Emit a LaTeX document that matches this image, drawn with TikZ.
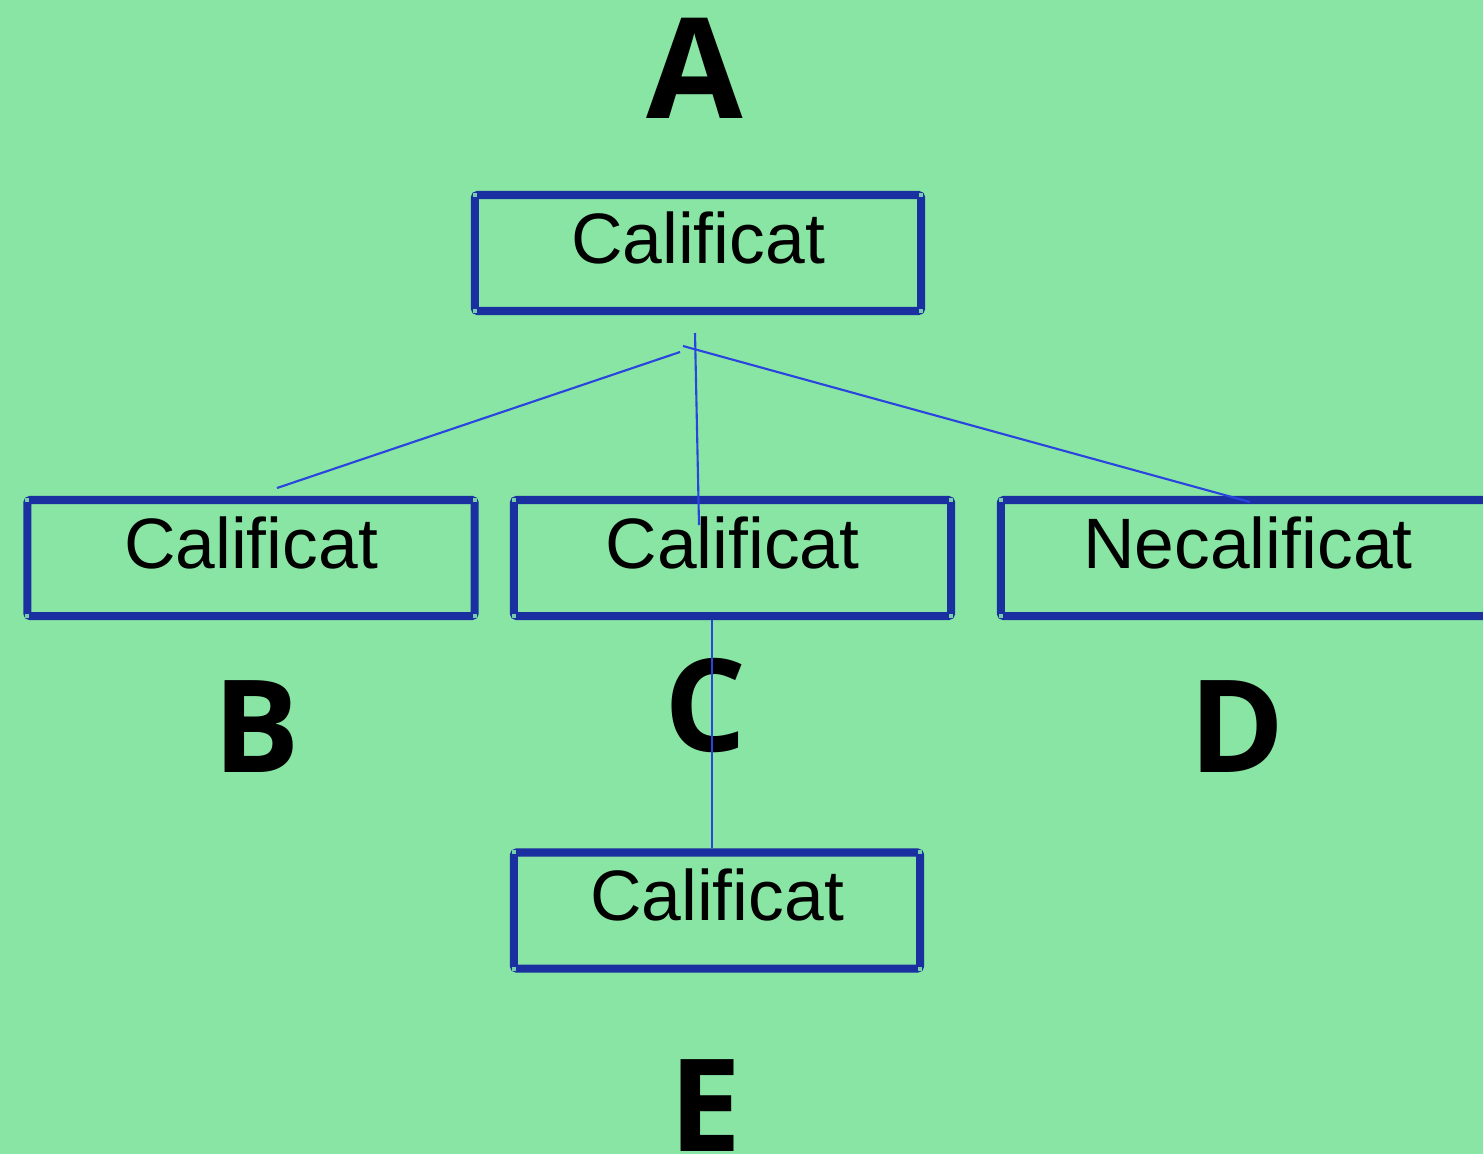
\documentclass[tikz,border=0pt]{standalone}
\usepackage{fontspec}
\setmainfont{Liberation Sans}
\newfontfamily\bigletter{Open Sans}
\usepackage{tikz}
\usetikzlibrary{
	positioning,
	calc
}
\definecolor{sheetgreen}{RGB}{136,229,163}
\definecolor{boxblue}{RGB}{26,47,160}
\definecolor{linkblue}{RGB}{42,68,224}
\definecolor{handle}{RGB}{120,205,170}

\begin{document}
\begin{tikzpicture}[x=0.01cm,y=-0.01cm,
	box/.style={draw=boxblue,line width=2.3pt,rounded corners=0.8pt,inner sep=0pt,outer sep=0pt,
		text height=0.68cm,text depth=0.48cm,font=\fontsize{20.3}{24}\selectfont},
	letter/.style={anchor=base,font=\bigletter\bfseries\fontsize{36.6}{40}\selectfont},
	link/.style={draw=linkblue,line width=0.6pt}
]
	\fill[sheetgreen] (0,0) rectangle (1483,1154);
	\useasboundingbox (0,0) rectangle (1483,1154);

	\draw
		node [box,minimum width=4.46cm] (top) at (698,253)    {Calificat}
		node [box,minimum width=4.47cm] (cb)  at (251,558)    {Calificat}
		node [box,minimum width=4.37cm] (cc)  at (732.5,558)  {Calificat}
		node [box,minimum width=4.94cm] (cd)  at (1248,558)   {Necalificat}
		node [box,minimum width=4.06cm] (ce)  at (717,910.5)  {Calificat}
	;

	% corner handles
	\foreach \n in {top,cb,cc,cd,ce}
		\foreach \a in {north west,north east,south west,south east}
			\fill[handle] ($(\n.\a)+(-2,-2)$) rectangle ($(\n.\a)+(2,2)$);

	\node [letter,font=\bigletter\bfseries\fontsize{39.8}{44}\selectfont] (la) at (695,118) {A};
	\node [letter] (lb) at (257,772)  {B};
	\node [letter] (lc) at (705,751)  {C};
	\node [letter] (ld) at (1237,772) {D};
	\node [letter] (le) at (706,1151) {E};

	\coordinate (forkb) at (680,352);
	\coordinate (forkc) at (695,333);
	\coordinate (forkd) at (683,346);
	\coordinate (endb)  at (277,488);
	\coordinate (endc)  at (699,525);
	\coordinate (endd)  at (1250,502);
	\coordinate (downc) at (712,620);
	\coordinate (upe)   at (712,848);

	\draw[link] (forkb) -- (endb);
	\draw[link] (forkc) -- (endc);
	\draw[link] (forkd) -- (endd);
	\draw[link] (downc) -- (upe);
\end{tikzpicture}
\end{document}
